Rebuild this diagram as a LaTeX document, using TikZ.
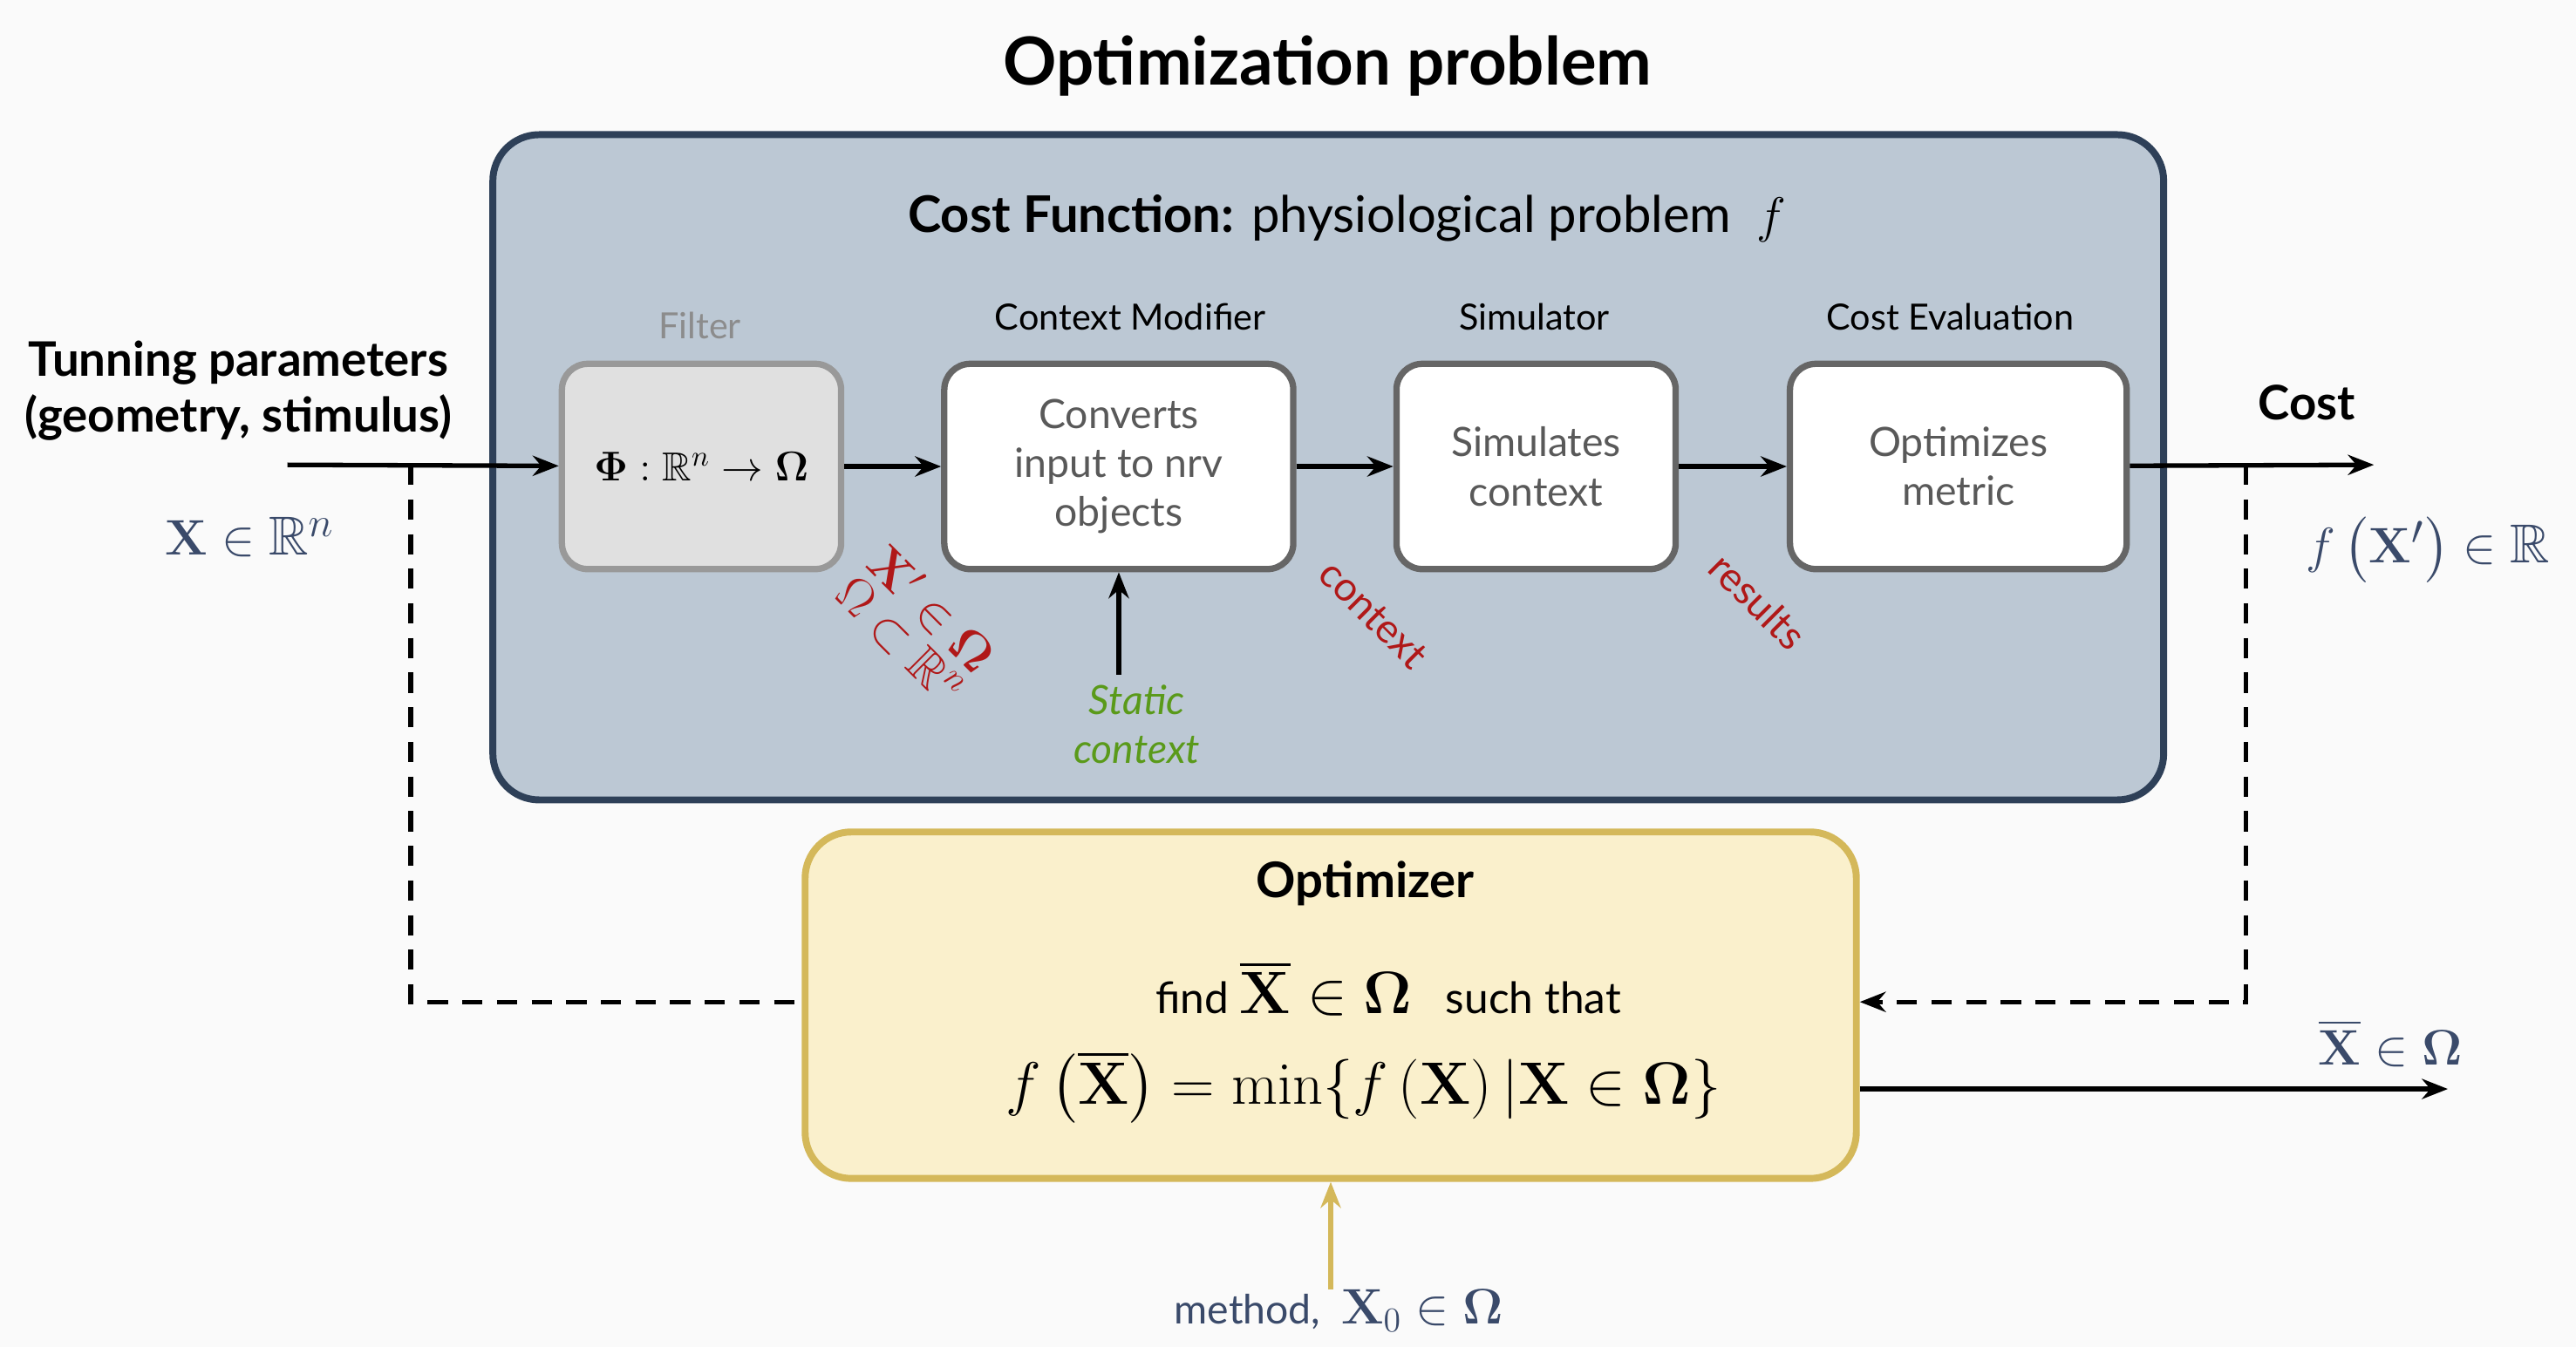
\documentclass[tikz,border=0pt]{standalone}
\usepackage{amsmath,amssymb}
\usepackage[no-math]{fontspec}
\setmainfont{Lato}
\usetikzlibrary{positioning,arrows.meta}
\definecolor{boxblue}{HTML}{BCC8D4}
\definecolor{edgeblue}{HTML}{2E4058}
\definecolor{textblue}{HTML}{3A4A6A}
\definecolor{optfill}{HTML}{FAF0CC}
\definecolor{optedge}{HTML}{D4B85A}
\definecolor{labred}{HTML}{B01818}
\definecolor{labgreen}{HTML}{5A9A1A}
\begin{document}
\begin{tikzpicture}[x=0.02cm,y=-0.02cm,
    stage/.style={draw=black!60, line width=2.2pt, fill=white, rounded corners=9pt, minimum width=4.1cm, minimum height=2.5cm, align=center, text=black!65, font=\fontsize{14}{17}\selectfont},
    head/.style={font=\fontsize{12.5}{15}\selectfont},
    flow/.style={-{Stealth[length=9pt,width=7pt]}, line width=1.6pt},
    mathlab/.style={text=textblue, font=\fontsize{19}{22}\selectfont},
    redlab/.style={text=labred, rotate=-45, font=\fontsize{14}{16}\selectfont}]
  \useasboundingbox[fill=black!2] (0,0) rectangle (1568,820);

  % frames
  \node[font=\fontsize{23}{27}\selectfont\bfseries] (title) at (808,40) {Optimization problem};
  \draw[fill=boxblue, draw=edgeblue, line width=2.4pt, rounded corners=16pt] (300,82) rectangle (1317,487);
  \node[font=\fontsize{17.5}{21}\selectfont] (costfn) at (820,133) {\textbf{Cost Function:} physiological problem ~$f$};

  % stages
  \node[stage, fill=black!12, draw=black!40, minimum width=3.4cm] (filter) at (427,284) {\textcolor{black}{\fontsize{14}{16}\selectfont$\boldsymbol{\Phi}:\mathbb{R}^n\to\boldsymbol{\Omega}$}};
  \node[stage, minimum width=4.25cm] (modifier) at (681,284) {Converts\\input to nrv\\objects};
  \node[stage, minimum width=3.4cm] (simulator) at (935,284) {Simulates\\context};
  \node[stage] (evaluation) at (1192,284) {Optimizes\\metric};
  \node[head, text=black!45] at (426,198) {Filter};
  \node[head] at (688,193) {Context Modifier};
  \node[head] at (934,193) {Simulator};
  \node[head] at (1187,193) {Cost Evaluation};

  % inputs and outputs
  \coordinate (in) at (175,283);
  \coordinate (out) at (1445,283);
  \node[font=\fontsize{16.5}{19.5}\selectfont\bfseries, align=center] (params) at (145,238) {Tunning parameters\\(geometry, stimulus)};
  \node[mathlab] (xin) at (152,327) {$\mathbf{X}\in\mathbb{R}^n$};
  \node[font=\fontsize{16.5}{19.5}\selectfont\bfseries] (cost) at (1404,245) {Cost};
  \node[mathlab] (fx) at (1478,335) {$f\left(\mathbf{X}'\right)\in\mathbb{R}$};
  \draw[flow] (in) -- (filter);
  \draw[flow] (filter) -- (modifier);
  \draw[flow] (modifier) -- (simulator);
  \draw[flow] (simulator) -- (evaluation);
  \draw[flow] (evaluation) -- (out);

  % rotated labels
  \node[redlab, align=center, font=\fontsize{17}{18}\selectfont] at (558,380) {$\mathbf{X}'\in\boldsymbol{\Omega}$\\[-3pt]$\Omega\subset\mathbb{R}^n$};
  \node[redlab] at (836,374) {context};
  \node[redlab] at (1070,366) {results};
  \node[text=labgreen, align=center, font=\fontsize{14}{17}\selectfont\itshape] (static) at (692,441) {Static\\context};
  \draw[flow] (static.north -| modifier) -- (modifier);

  % optimizer
  \node[draw=optedge, fill=optfill, line width=2.4pt, rounded corners=16pt, minimum width=12.8cm, minimum height=4.22cm] (optimizer) at (810,612) {};
  \node[font=\fontsize{17}{20}\selectfont\bfseries] at (831,538) {Optimizer};
  \node[font=\fontsize{15}{18}\selectfont] at (845,602) {find {\fontsize{20}{22}\selectfont$\overline{\mathbf{X}}\in\boldsymbol{\Omega}$} ~ such that};
  \node[font=\fontsize{20}{23}\selectfont] at (830,662) {$f\left(\overline{\mathbf{X}}\right)=\min\{f\left(\mathbf{X}\right)|\mathbf{X}\in\boldsymbol{\Omega}\}$};
  \coordinate (loopin) at (250,283);
  \coordinate (loopout) at (1367,283);
  \draw[dashed, line width=1.6pt, dash pattern=on 7pt off 5pt] (loopin) |- (optimizer.west |- 0,610);
  \draw[flow, dashed, dash pattern=on 7pt off 5pt] (loopout) |- (optimizer.east |- 0,610);
  \coordinate (result) at (1490,663);
  \draw[flow] (optimizer.east |- result) -- (result);
  \node[mathlab] at (1455,635) {$\overline{\mathbf{X}}\in\boldsymbol{\Omega}$};
  \node[text=textblue, font=\fontsize{14}{17}\selectfont] (method) at (815,798) {method, ~{\fontsize{18}{20}\selectfont$\mathbf{X}_0\in\boldsymbol{\Omega}$}};
  \draw[flow, draw=optedge] (810,785) -- (optimizer.south -| 810,0);
\end{tikzpicture}
\end{document}
